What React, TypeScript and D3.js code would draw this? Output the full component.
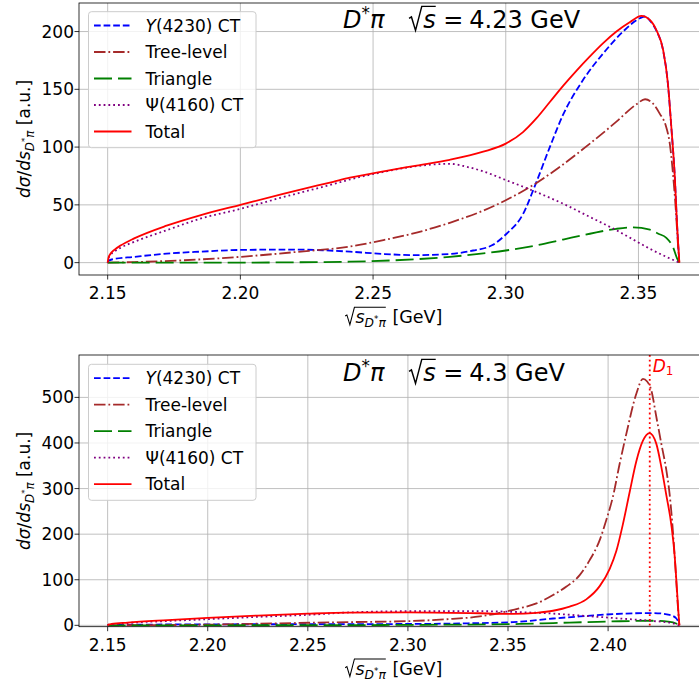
import React, { useEffect, useRef } from 'react';
import * as d3 from 'd3';

type Pt = [number, number];

// ---------- Data: upper panel, sqrt(s) = 4.23 GeV ----------
const topY4230: Pt[] = [
  [2.15, 0], [2.1503, 1.5], [2.152, 3], [2.16, 5], [2.1722, 7.8], [2.185, 9.5], [2.2, 11], [2.22, 11.3],
  [2.2413, 9.5], [2.2539, 7.5], [2.2664, 6.5], [2.2789, 7.5], [2.2877, 10.5], [2.2948, 15], [2.3003, 25],
  [2.3065, 42], [2.3109, 66], [2.3166, 100], [2.3216, 128], [2.3291, 158], [2.3367, 181], [2.3442, 200],
  [2.3505, 211.5], [2.3525, 213], [2.3543, 209.5], [2.3568, 200.5], [2.3593, 183.5], [2.3611, 154.5],
  [2.3624, 116.5], [2.3637, 73.5], [2.3645, 34.5], [2.365, 14.5], [2.3654, 0],
];
const topTree: Pt[] = [
  [2.15, 0], [2.16, 0.5], [2.17, 1.2], [2.185, 2.8], [2.2, 5], [2.22, 9], [2.2413, 14], [2.2539, 19.5],
  [2.2664, 26], [2.2789, 34.5], [2.2915, 45], [2.3, 54], [2.3116, 69], [2.3216, 85], [2.3317, 103],
  [2.3417, 122], [2.3492, 137], [2.3525, 141.4], [2.3555, 137.6], [2.358, 129], [2.3605, 117],
  [2.3618, 103], [2.363, 77], [2.364, 48], [2.3649, 15], [2.3654, 0],
];
const topTriangle: Pt[] = [
  [2.15, 0], [2.2, 0], [2.22, 0.3], [2.2413, 0.8], [2.2664, 3], [2.2789, 5], [2.2915, 8], [2.3, 10.5],
  [2.3116, 15], [2.3216, 20], [2.3317, 25], [2.3417, 29.3], [2.348, 30.5], [2.3543, 28.5], [2.3575, 25],
  [2.3605, 21.5], [2.363, 13.5], [2.3645, 4], [2.3654, 0],
];
const topPsi: Pt[] = [
  [2.15, 0], [2.1503, 3.5], [2.151, 6.5], [2.1525, 9.5], [2.155, 13], [2.16, 18], [2.1722, 28],
  [2.1848, 38], [2.2, 46.5], [2.215, 56], [2.235, 68], [2.2413, 72], [2.255, 79], [2.2664, 83.5],
  [2.2789, 85.5], [2.2852, 83], [2.2915, 79], [2.3, 71.5], [2.3116, 61], [2.3216, 51], [2.3317, 39.5],
  [2.3417, 28], [2.348, 20], [2.3543, 12], [2.3605, 5], [2.3654, 0],
];
const topTotal: Pt[] = [
  [2.15, 0], [2.1503, 4], [2.151, 7.5], [2.1525, 11], [2.155, 15], [2.16, 21], [2.1722, 32], [2.1848, 41],
  [2.2, 50], [2.2161, 59.5], [2.235, 70], [2.2413, 73.5], [2.255, 79.5], [2.2664, 84], [2.2789, 89],
  [2.2915, 96], [2.3, 103], [2.3065, 113], [2.3116, 125], [2.3166, 139], [2.3216, 153], [2.3266, 166],
  [2.3317, 178.5], [2.3367, 190], [2.3417, 200], [2.3467, 208], [2.3511, 213.5], [2.3543, 210],
  [2.3568, 201], [2.3593, 184], [2.3611, 155], [2.3624, 117], [2.3637, 74], [2.3645, 35], [2.365, 15],
  [2.3654, 0],
];

// ---------- Data: lower panel, sqrt(s) = 4.3 GeV ----------
const botY4230: Pt[] = [
  [2.15, 0], [2.16, 1.2], [2.2, 2.2], [2.25, 2.5], [2.3, 3], [2.33, 4.5], [2.3525, 7], [2.3725, 15],
  [2.3858, 19.5], [2.4024, 24.5], [2.4224, 27], [2.4307, 23], [2.4341, 15], [2.4352, 6], [2.4356, 0],
];
const botTree: Pt[] = [
  [2.15, 0], [2.2, 1.5], [2.236, 4.5], [2.27, 7], [2.3026, 9.6], [2.3192, 13.3], [2.3359, 19.5],
  [2.3508, 32], [2.3558, 37.4], [2.3642, 48], [2.3725, 66.5], [2.3792, 85], [2.3858, 110], [2.3908, 143],
  [2.3958, 187], [2.3991, 231], [2.4024, 282], [2.4058, 355], [2.4091, 420], [2.4141, 508],
  [2.4174, 540.7], [2.4195, 535], [2.4216, 515], [2.4241, 457], [2.4266, 398], [2.4291, 340],
  [2.4307, 289], [2.4324, 205], [2.4338, 115], [2.4348, 45], [2.4356, 0],
];
const botTriangle: Pt[] = [
  [2.15, 0], [2.25, 0.3], [2.3, 1], [2.3558, 3], [2.3725, 5], [2.3891, 7], [2.4058, 9], [2.4224, 10],
  [2.43, 8], [2.434, 4], [2.4356, 0],
];
const botPsi: Pt[] = [
  [2.15, 0], [2.1505, 1.5], [2.155, 3], [2.16, 5], [2.18, 9.5], [2.2, 13.5], [2.225, 18.5], [2.25, 23],
  [2.2693, 28], [2.3026, 31], [2.3359, 31], [2.3525, 29.5], [2.3692, 26.5], [2.3891, 20.5], [2.4058, 15],
  [2.4224, 9.5], [2.4324, 4.6], [2.4356, 0],
];
const botTotal: Pt[] = [
  [2.15, 0], [2.1505, 1.5], [2.152, 3], [2.16, 6], [2.18, 11.5], [2.2, 16.5], [2.225, 21.5], [2.25, 25.5],
  [2.27, 27.8], [2.3, 28.6], [2.3359, 26.5], [2.3525, 25], [2.3642, 27.5], [2.3725, 32], [2.3808, 41],
  [2.3891, 57], [2.3958, 86], [2.4008, 124], [2.4041, 163], [2.4074, 222], [2.4108, 293], [2.4141, 360],
  [2.4174, 405], [2.4207, 421.7], [2.4241, 398], [2.4266, 347], [2.4291, 285], [2.4316, 220],
  [2.4333, 150], [2.4344, 78], [2.4351, 30], [2.4356, 0],
];

const legendLabels = ['Y(4230) CT', 'Tree-level', 'Triangle', 'Ψ(4160) CT', 'Total'];
const topXTicks = [2.15, 2.2, 2.25, 2.3, 2.35];
const topYTicks = [0, 50, 100, 150, 200];
const botXTicks = [2.15, 2.2, 2.25, 2.3, 2.35, 2.4];
const botYTicks = [0, 100, 200, 300, 400, 500];
const D1_MASS = 2.4208;

const FONT = "'DejaVu Sans', sans-serif";
const LW = 1.8;
const seriesStyles = [
  { color: 'blue', dash: '6.7,2.9' },
  { color: 'brown', dash: '11.5,2.9,1.8,2.9' },
  { color: 'green', dash: '18,6' },
  { color: 'purple', dash: '1.8,3' },
  { color: 'red', dash: null as string | null },
];

type Piece = { t?: string; it?: boolean; sc?: number; dy?: number; gap?: number; radStart?: boolean; radEnd?: boolean };

function mathText(parent: any, pieces: Piece[], fs: number, color: string) {
  const g = parent.append('g');
  let cx = 0;
  let radStart = 0;
  const rads: [number, number][] = [];
  for (const p of pieces) {
    if (p.radStart) { radStart = cx; cx += 0.62 * fs; continue; }
    if (p.radEnd) { rads.push([radStart, cx]); cx += 0.06 * fs; continue; }
    if (p.gap) { cx += p.gap * fs; continue; }
    const size = fs * (p.sc ?? 1);
    const t = g.append('text')
      .attr('x', cx).attr('y', (p.dy ?? 0) * fs)
      .attr('font-family', FONT).attr('font-size', size)
      .attr('font-style', p.it ? 'italic' : 'normal')
      .attr('fill', color).style('white-space', 'pre')
      .text(p.t ?? '');
    cx += (t.node() as SVGTextElement).getComputedTextLength();
  }
  rads.forEach(([a, b]) => {
    g.append('path')
      .attr('d', `M${a + 0.03 * fs},${-0.4 * fs} L${a + 0.13 * fs},${-0.46 * fs} L${a + 0.3 * fs},${0.1 * fs} L${a + 0.56 * fs},${-0.9 * fs} L${b},${-0.9 * fs}`)
      .attr('fill', 'none').attr('stroke', color).attr('stroke-width', 0.06 * fs)
      .attr('stroke-linejoin', 'miter');
  });
  return { g, width: cx };
}

interface PanelCfg {
  left: number; right: number; top: number; bottom: number;
  xDom: [number, number]; yDom: [number, number];
  xTicks: number[]; yTicks: number[];
  series: Pt[][]; energy: string; titleX: number; titleY: number;
  legendTop: number; d1?: boolean; id: string;
}

function drawPanel(svg: any, c: PanelCfg) {
  const x = d3.scaleLinear().domain(c.xDom).range([c.left, c.right]);
  const y = d3.scaleLinear().domain(c.yDom).range([c.bottom, c.top]);
  const g = svg.append('g');

  const clipId = 'clip-' + c.id;
  svg.append('defs').append('clipPath').attr('id', clipId)
    .append('rect').attr('x', c.left).attr('y', c.top)
    .attr('width', c.right - c.left).attr('height', c.bottom - c.top);

  // grid
  const grid = g.append('g').attr('stroke', '#b0b0b0').attr('stroke-width', 0.8);
  c.xTicks.forEach((t) => grid.append('line').attr('x1', x(t)).attr('x2', x(t)).attr('y1', c.top).attr('y2', c.bottom));
  c.yTicks.forEach((t) => grid.append('line').attr('x1', c.left).attr('x2', c.right).attr('y1', y(t)).attr('y2', y(t)));

  // series
  const line = d3.line<Pt>().x((d) => x(d[0])).y((d) => y(d[1])).curve(d3.curveMonotoneX);
  const lines = g.append('g').attr('clip-path', `url(#${clipId})`);
  c.series.forEach((s, i) => {
    const st = seriesStyles[i];
    const p = lines.append('path').attr('d', line(s)).attr('fill', 'none')
      .attr('stroke', st.color).attr('stroke-width', LW);
    if (st.dash) p.attr('stroke-dasharray', st.dash);
  });

  if (c.d1) {
    lines.append('line').attr('x1', x(D1_MASS)).attr('x2', x(D1_MASS))
      .attr('y1', c.top).attr('y2', c.bottom)
      .attr('stroke', 'red').attr('stroke-width', LW).attr('stroke-dasharray', '1.8,3');
    const lab = mathText(g, [{ t: 'D', it: true }, { t: '1', sc: 0.7, dy: 0.2 }], 17, 'red');
    lab.g.attr('transform', `translate(${x(D1_MASS) + 3},${c.top + 17})`);
  }

  // spines
  const sp = g.append('g').attr('stroke', 'black').attr('stroke-width', 0.8).attr('fill', 'none');
  sp.append('rect').attr('x', c.left).attr('y', c.top).attr('width', c.right - c.left).attr('height', c.bottom - c.top);

  // ticks
  c.xTicks.forEach((t) => {
    g.append('line').attr('x1', x(t)).attr('x2', x(t)).attr('y1', c.bottom).attr('y2', c.bottom + 4.5)
      .attr('stroke', 'black').attr('stroke-width', 0.8);
    g.append('text').attr('x', x(t)).attr('y', c.bottom + 24).attr('text-anchor', 'middle')
      .attr('font-family', FONT).attr('font-size', 17).attr('fill', 'black').text(d3.format('.2f')(t));
  });
  c.yTicks.forEach((t) => {
    g.append('line').attr('x1', c.left - 4.5).attr('x2', c.left).attr('y1', y(t)).attr('y2', y(t))
      .attr('stroke', 'black').attr('stroke-width', 0.8);
    g.append('text').attr('x', c.left - 5).attr('y', y(t) + 6).attr('text-anchor', 'end')
      .attr('font-family', FONT).attr('font-size', 17).attr('fill', 'black').text(String(t));
  });

  // x label
  const xl = mathText(g, [
    { radStart: true }, { t: 's', it: true }, { t: 'D', it: true, sc: 0.7, dy: 0.22 },
    { t: '*', sc: 0.5, dy: -0.05 }, { t: 'π', it: true, sc: 0.7, dy: 0.22 }, { radEnd: true },
    { t: ' [GeV]' },
  ], 17.5, 'black');
  xl.g.attr('transform', `translate(${(c.left + 699 + 9) / 2 - xl.width / 2},${c.bottom + 48})`);

  // y label
  const yl = mathText(g, [
    { t: 'd', it: true }, { t: 'σ', it: true }, { t: '/' }, { t: 'd', it: true }, { t: 's', it: true },
    { t: 'D', it: true, sc: 0.7, dy: 0.22 }, { t: '*', sc: 0.5, dy: -0.12 }, { t: 'π', it: true, sc: 0.7, dy: 0.22 },
    { t: ' [a.u.]' },
  ], 17, 'black');
  yl.g.attr('transform', `translate(30,${(c.top + c.bottom) / 2}) rotate(-90) translate(${-yl.width / 2},0)`);

  // title annotation
  const tt = mathText(g, [
    { t: 'D', it: true }, { t: '*', sc: 0.7, dy: -0.38 }, { t: 'π', it: true }, { gap: 1.0 },
    { radStart: true }, { t: 's', it: true }, { radEnd: true }, { gap: 0.25 }, { t: '=' }, { gap: 0.25 },
    { t: c.energy + ' GeV' },
  ], 24, 'black');
  tt.g.attr('transform', `translate(${c.titleX},${c.titleY})`);

  // legend
  const lg = g.append('g');
  lg.append('rect').attr('x', 88.5).attr('y', c.legendTop).attr('width', 167.5).attr('height', 136)
    .attr('rx', 3).attr('fill', 'white').attr('fill-opacity', 0.8)
    .attr('stroke', '#cccccc').attr('stroke-width', 1);
  legendLabels.forEach((lab, i) => {
    const ry = c.legendTop + 13.8 + i * 26.5;
    const st = seriesStyles[i];
    const l = lg.append('line').attr('x1', 94).attr('x2', 131.5).attr('y1', ry).attr('y2', ry)
      .attr('stroke', st.color).attr('stroke-width', LW);
    if (st.dash) l.attr('stroke-dasharray', st.dash);
    let pieces: Piece[];
    if (i === 0) pieces = [{ t: 'Y', it: true }, { t: lab.slice(1) }];
    else pieces = [{ t: lab }];
    const mt = mathText(lg, pieces, 17, 'black');
    mt.g.attr('transform', `translate(145.5,${ry + 6})`);
  });
}

export default function App() {
  const ref = useRef<SVGSVGElement>(null);
  useEffect(() => {
    const svg = d3.select(ref.current);
    svg.selectAll('*').remove();
    drawPanel(svg, {
      id: 'top', left: 79, right: 708, top: 3, bottom: 275,
      xDom: [2.1392, 2.3762], yDom: [-10.7, 224.7],
      xTicks: topXTicks, yTicks: topYTicks,
      series: [topY4230, topTree, topTriangle, topPsi, topTotal],
      energy: '4.23', titleX: 343, titleY: 28, legendTop: 11.7,
    });
    drawPanel(svg, {
      id: 'bot', left: 79, right: 708, top: 355, bottom: 626.7,
      xDom: [2.1357, 2.4499], yDom: [-3, 593],
      xTicks: botXTicks, yTicks: botYTicks,
      series: [botY4230, botTree, botTriangle, botPsi, botTotal],
      energy: '4.3', titleX: 343, titleY: 381, legendTop: 364.3, d1: true,
    });
  }, []);
  return (
    <svg ref={ref} width={699} height={684}
      style={{ position: 'absolute', left: 0, top: 0, background: 'white' }} />
  );
}
